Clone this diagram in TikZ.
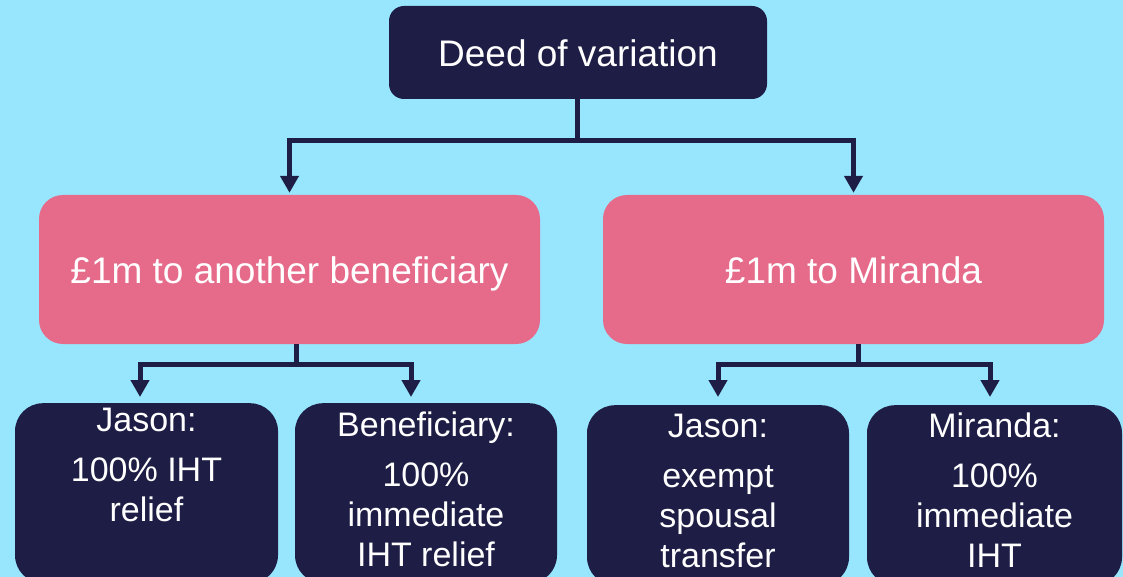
\documentclass[tikz,border=0pt]{standalone}
\usepackage{fontspec}
\setmainfont{Liberation Sans}
\usepackage{tikz}
\usetikzlibrary{arrows.meta,positioning}
\definecolor{sky}{HTML}{98E6FE}
\definecolor{navy}{HTML}{1D1D45}
\definecolor{rose}{HTML}{E66A8A}

\begin{document}
\begin{tikzpicture}[
  x=1pt, y=-1pt,
  head/.style={fill=navy, text=white, rounded corners=15pt, minimum width=378pt,
    minimum height=93pt, text height=27.5pt, text depth=0pt,
    font=\fontsize{37}{44}\selectfont},
  option/.style={fill=rose, text=white, rounded corners=24pt, minimum width=501pt,
    minimum height=149pt, text height=28pt, text depth=0pt,
    font=\fontsize{37}{44}\selectfont},
  outcome/.style={fill=navy, rounded corners=28pt, minimum width=262pt,
    minimum height=180pt, anchor=north},
  outcome text/.style={text=white, align=center, inner sep=0pt,
    font=\fontsize{34}{40}\selectfont},
  link/.style={draw=navy, line width=5pt, line join=miter,
    -{Triangle[width=18pt,length=17pt]}}
]
\useasboundingbox (0,0) rectangle (1123,577);
\clip (0,0) rectangle (1123,577);
\fill[sky] (0,0) rectangle (1123,577);

\node[head] (deed) at (578,52.5) {Deed of variation};
\node[option] (gift) at (289.5,269.5) {£1m to another beneficiary};
\node[option] (spouse) at (853.5,269.5) {£1m to Miranda};

\node[outcome, minimum width=263pt] (jasonA) at (146.5,403) {};
\node[outcome] (benef) at (426,403) {};
\node[outcome] (jasonB) at (718,405) {};
\node[outcome, minimum width=255pt] (miranda) at (994.5,405) {};

\node[outcome text, below=4.7pt of jasonA.north] (jasonA-t)
  {Jason:\\[10pt]100\% IHT\\relief};
\node[outcome text, below=9pt of benef.north] (benef-t)
  {Beneficiary:\\[10pt]100\%\\immediate\\IHT relief};
\node[outcome text, below=8.7pt of jasonB.north] (jasonB-t)
  {Jason:\\[10pt]exempt\\spousal\\transfer};
\node[outcome text, below=8.1pt of miranda.north] (miranda-t)
  {Miranda:\\[10pt]100\%\\immediate\\IHT};

\draw[link, shorten >=2pt] ([xshift=-1pt]deed.south) -- ++(0,41) -| (gift.north);
\draw[link, shorten >=2pt] ([xshift=-1pt]deed.south) -- ++(0,41) -| (spouse.north);
\draw[link, shorten >=6pt] ([xshift=6.5pt]gift.south) -- ++(0,20) -| ([xshift=-6.5pt]jasonA.north);
\draw[link, shorten >=6pt] ([xshift=6.5pt]gift.south) -- ++(0,20) -| ([xshift=-15pt]benef.north);
\draw[link, shorten >=8pt] ([xshift=4.5pt]spouse.south) -- ++(0,20) -| (jasonB.north);
\draw[link, shorten >=8pt] ([xshift=4.5pt]spouse.south) -- ++(0,20) -| ([xshift=-4.5pt]miranda.north);
\end{tikzpicture}
\end{document}
